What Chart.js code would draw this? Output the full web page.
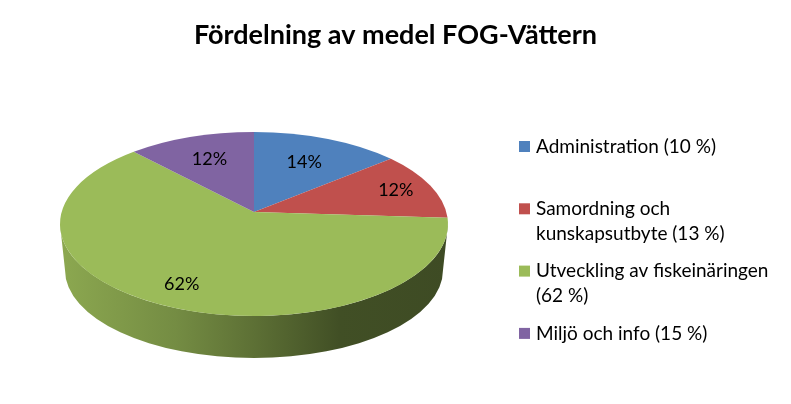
<!DOCTYPE html>
<html><head><meta charset="utf-8">
<script src="https://cdn.jsdelivr.net/npm/chart.js@4/dist/chart.umd.min.js"></script>
<style>html,body{margin:0;padding:0;background:#fff}canvas{display:block}</style>
</head><body>
<canvas id="c" width="791" height="404"></canvas>
<script>
const categories = [
  ['Administration (10 %)'],
  ['Samordning och', 'kunskapsutbyte (13 %)'],
  ['Utveckling av fiskeinäringen', '(62 %)'],
  ['Miljö och info (15 %)']
];
const shares = [14, 12, 62, 12];
const colors = ['#4F81BD', '#C0504D', '#9BBB59', '#8064A2'];
const titleText = 'Fördelning av medel FOG-Vättern';

function shade(hex, f) {
  const n = parseInt(hex.slice(1), 16);
  const r = Math.round(((n >> 16) & 255) * f), g = Math.round(((n >> 8) & 255) * f), b = Math.round((n & 255) * f);
  return 'rgb(' + r + ',' + g + ',' + b + ')';
}
const cdiv = (p, q) => { const d = q[0]*q[0]+q[1]*q[1]; return [(p[0]*q[0]+p[1]*q[1])/d, (p[1]*q[0]-p[0]*q[1])/d]; };

const pie3d = {
  id: 'pie3d',
  beforeDatasetsDraw(chart, args, o) {
    const ctx = chart.ctx;
    const meta = chart.getDatasetMeta(0);
    const ds = chart.data.datasets[0];
    const a = o.persp;
    const mob = z => cdiv([z[0] + a, z[1]], [1 + a*z[0], a*z[1]]);
    const mapA = th => {
      const phi = th + Math.PI/2;
      const w = mob([Math.cos(phi), Math.sin(phi)]);
      let t = Math.atan2(w[1], w[0]);
      while (t < phi - Math.PI) t += 2*Math.PI;
      while (t > phi + Math.PI) t -= 2*Math.PI;
      return t - Math.PI/2;
    };
    const toScreen = k => ({x: o.cx + o.rx*k[1], y: o.cy - o.ry*k[0]});
    const mapPoint = (rho, phi) => {
      const pr = rho/(1+Math.sqrt(1-rho*rho));
      const w = mob([pr*Math.cos(phi), pr*Math.sin(phi)]);
      const m = w[0]*w[0]+w[1]*w[1];
      return toScreen([2*w[0]/(1+m), 2*w[1]/(1+m)]);
    };
    const apex = mapPoint(0, 0);
    const arcs = meta.data.map(el => ({s: mapA(el.startAngle), e: mapA(el.endAngle), sa: el.startAngle, ea: el.endAngle}));

    ctx.save();
    arcs.forEach((ar, i) => {
      const s = Math.max(ar.s, 0), e = Math.min(ar.e, Math.PI);
      if (e <= s) return;
      const g = ctx.createLinearGradient(o.cx - o.rx, 0, o.cx + o.rx, 0);
      const base = ds.backgroundColor[i];
      o.sideStops.forEach(st => g.addColorStop(st[0], shade(base, st[1])));
      ctx.beginPath();
      ctx.ellipse(o.cx, o.cy, o.rx, o.ry, 0, s, e);
      ctx.ellipse(o.bx, o.by, o.brx, o.bry, 0, e, s, true);
      ctx.closePath();
      ctx.fillStyle = g;
      ctx.fill();
    });
    arcs.forEach((ar, i) => {
      ctx.beginPath();
      ctx.moveTo(apex.x, apex.y);
      ctx.ellipse(o.cx, o.cy, o.rx, o.ry, 0, ar.s, ar.e);
      ctx.closePath();
      ctx.fillStyle = ds.backgroundColor[i];
      ctx.fill();
    });
    const total = ds.data.reduce((p, v) => p + v, 0);
    ctx.fillStyle = '#000';
    ctx.font = o.labelFont;
    ctx.textAlign = 'center';
    ctx.textBaseline = 'middle';
    arcs.forEach((ar, i) => {
      const phi = (ar.sa + ar.ea)/2 + Math.PI/2;
      const p = mapPoint(o.labelRadius[i], phi);
      ctx.fillText(Math.round(ds.data[i]/total*100) + '%', p.x, p.y);
    });
    ctx.restore();
    return false;
  },
  afterDraw(chart, args, o) {
    const ctx = chart.ctx;
    const ds = chart.data.datasets[0];
    ctx.save();
    ctx.font = o.legendFont;
    ctx.textAlign = 'left';
    ctx.textBaseline = 'middle';
    chart.data.labels.forEach((lab, i) => {
      const y = o.legendY + i*o.legendStep;
      ctx.fillStyle = ds.backgroundColor[i];
      ctx.fillRect(o.legendX, y - 5.5, 11, 11);
      ctx.fillStyle = '#000';
      lab.forEach((line, j) => ctx.fillText(line, o.legendX + 17, y + j*o.legendLine));
    });
    ctx.restore();
  }
};

Chart.defaults.font.family = 'Lato';
new Chart(document.getElementById('c'), {
  type: 'pie',
  data: {
    labels: categories,
    datasets: [{ data: shares, backgroundColor: colors, borderWidth: 0 }]
  },
  options: {
    responsive: false,
    animation: false,
    events: [],
    layout: { padding: 0 },
    plugins: {
      legend: { display: false },
      tooltip: { enabled: false },
      title: {
        display: true, text: titleText, color: '#000',
        font: { family: 'Lato', size: 27, weight: 'bold' },
        padding: { top: 19, bottom: 10 }
      },
      pie3d: {
        cx: 254, cy: 224, rx: 194, ry: 92,
        bx: 254, by: 270, brx: 189, bry: 88,
        persp: 0.0653,
        sideStops: [[0, 0.9], [0.3, 0.75], [0.5, 0.6], [0.72, 0.42], [1, 0.4]],
        labelFont: '18px Lato',
        labelRadius: [0.66, 0.8, 0.8, 0.68],
        legendFont: '19px Lato',
        legendX: 519, legendY: 146.5, legendStep: 62.3, legendLine: 25
      }
    }
  },
  plugins: [pie3d]
});
</script>
</body></html>
